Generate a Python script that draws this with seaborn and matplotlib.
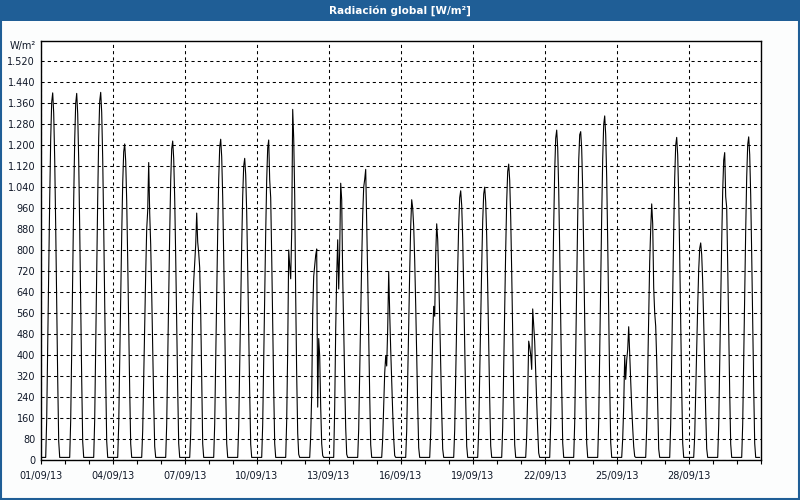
import numpy as np
import pandas as pd
import matplotlib
matplotlib.use("Agg")
import matplotlib.pyplot as plt
import matplotlib.dates as mdates
import seaborn as sns
from matplotlib.patches import Rectangle

# ---------------- data ----------------
title = "Radiación global [W/m²]"
unit_label = "W/m²"
start_date = "2013-09-01"
end_date = "2013-10-01"
night_value = 8
day_hours = list(range(5, 19))          # hours (UTC) covered by each daylight list

# hourly global radiation (W/m²) for hours 05..18 of each day of September 2013
daylight = [
    [8, 154, 420, 714, 994, 1225, 1365, 1400, 1323, 1148, 889, 595, 308, 70],   # 01
    [8, 150, 415, 710, 990, 1220, 1360, 1398, 1320, 1145, 885, 592, 305, 68],   # 02
    [8, 152, 418, 712, 995, 1228, 1368, 1402, 1325, 1150, 890, 596, 310, 70],   # 03
    [8, 132, 362, 615, 856, 1054, 1175, 1205, 1139, 988, 765, 512, 265, 60],    # 04
    [8, 110, 300, 510, 710, 880, 950, 1134, 940, 820, 635, 425, 220, 50],       # 05
    [8, 134, 365, 620, 863, 1064, 1186, 1216, 1149, 997, 772, 517, 268, 61],    # 06
    [8, 100, 330, 570, 680, 750, 820, 941, 830, 790, 732, 560, 300, 60],        # 07
    [8, 135, 367, 624, 868, 1070, 1192, 1223, 1156, 1003, 777, 520, 269, 61],   # 08
    [8, 127, 345, 587, 817, 1006, 1121, 1150, 1087, 943, 730, 489, 253, 58],    # 09
    [8, 134, 366, 622, 866, 1068, 1190, 1220, 1067, 1000, 775, 518, 268, 61],   # 10
    [8, 150, 420, 800, 740, 690, 870, 1337, 1227, 1010, 620, 320, 100, 20],     # 11
    [8, 90, 250, 560, 700, 740, 780, 804, 200, 462, 395, 200, 60, 15],          # 12
    [8, 200, 496, 700, 839, 651, 800, 1055, 992, 700, 496, 300, 120, 20],       # 13
    [8, 116, 320, 545, 760, 935, 1040, 1070, 1108, 905, 700, 470, 245, 56],     # 14
    [8, 80, 200, 330, 395, 357, 500, 718, 560, 420, 300, 180, 80, 15],          # 15
    [8, 110, 300, 510, 720, 890, 992, 960, 890, 760, 590, 395, 205, 45],        # 16
    [8, 100, 280, 480, 585, 547, 780, 900, 840, 700, 540, 360, 185, 40],        # 17
    [8, 113, 308, 523, 728, 898, 1000, 1026, 970, 842, 652, 436, 226, 51],      # 18
    [8, 114, 312, 530, 738, 910, 1014, 1040, 983, 853, 660, 442, 229, 52],      # 19
    [8, 124, 338, 575, 801, 987, 1100, 1128, 1066, 925, 716, 479, 248, 56],     # 20
    [8, 90, 250, 452, 430, 400, 344, 575, 509, 450, 330, 220, 110, 25],         # 21
    [8, 138, 377, 642, 893, 1101, 1227, 1258, 1189, 1032, 799, 535, 277, 63],   # 22
    [8, 140, 390, 665, 925, 1140, 1240, 1252, 1185, 1030, 795, 530, 275, 62],   # 23
    [8, 144, 394, 669, 932, 1148, 1279, 1312, 1240, 1076, 833, 558, 289, 66],   # 24
    [8, 80, 200, 395, 306, 380, 420, 507, 400, 300, 200, 120, 50, 12],          # 25
    [8, 120, 330, 560, 757, 880, 976, 900, 655, 560, 509, 380, 200, 40],        # 26
    [8, 135, 369, 627, 873, 1076, 1200, 1230, 1162, 1009, 781, 523, 271, 62],   # 27
    [8, 91, 248, 422, 587, 724, 806, 827, 782, 678, 525, 351, 182, 41],         # 28
    [8, 129, 352, 598, 832, 1026, 1143, 1172, 1004, 962, 744, 498, 258, 59],    # 29
    [8, 135, 370, 628, 875, 1078, 1202, 1232, 1164, 1010, 782, 524, 272, 62],   # 30
]

y_ticks = list(range(0, 1600, 80))
y_max = 1600
x_tick_days = list(range(1, 29, 3))

# ---------------- style ----------------
sns.set_theme(style="white")
plt.rcParams["font.family"] = ["DejaVu Sans"]

BLUE = "#1F5E96"
TEXT = "#101828"

times = pd.date_range(start_date, periods=len(daylight) * 24, freq="h")
values = np.full(len(times), float(night_value))
for d, prof in enumerate(daylight):
    for h, v in zip(day_hours, prof):
        values[d * 24 + h] = v
df = pd.DataFrame({"time": times, "rad": values})

fig = plt.figure(figsize=(8, 5), dpi=100)
fig.patch.set_facecolor("#FCFDFD")

# title bar and outer border
fig.add_artist(Rectangle((0, 1 - 21 / 500), 1, 21 / 500, transform=fig.transFigure,
                         facecolor=BLUE, edgecolor="none", zorder=0))
fig.text(0.5, 1 - 10.5 / 500, title, color="white", fontweight="bold",
         ha="center", va="center", fontsize=7.5)
fig.add_artist(Rectangle((0.6 / 800, 0.6 / 500), 798.8 / 800, 498.8 / 500,
                         transform=fig.transFigure, fill=False,
                         edgecolor=BLUE, lw=1.5, zorder=5))

ax = fig.add_axes([40.7 / 800, 40.5 / 500, 720 / 800, 419 / 500])
ax.set_facecolor("white")
sns.lineplot(data=df, x="time", y="rad", ax=ax, color="black", lw=0.8,
             estimator=None, zorder=3)

ax.set_xlim(pd.Timestamp(start_date), pd.Timestamp(end_date))
ax.set_ylim(0, y_max)
ax.set_xlabel("")
ax.set_ylabel("")

major_dates = [pd.Timestamp(2013, 9, d) for d in x_tick_days]
ax.set_xticks(major_dates)
ax.xaxis.set_minor_locator(mdates.DayLocator())
ax.xaxis.set_major_formatter(mdates.DateFormatter("%d/%m/%y"))
ax.set_yticks(y_ticks)
ax.set_yticklabels([f"{v:,}".replace(",", ".") for v in y_ticks])

ax.tick_params(axis="x", which="both", direction="out", length=3, width=0.8,
               color="black", bottom=True, labelsize=7, pad=5, labelcolor=TEXT)
ax.tick_params(axis="y", which="both", length=0, labelsize=7, pad=4,
               labelcolor=TEXT)

ax.grid(True, which="major", axis="both", color="black",
        linestyle=(0, (3, 3)), linewidth=0.75, zorder=1)
for s in ax.spines.values():
    s.set_color("black")
    s.set_linewidth(1.0)

ax.text(-0.006, 1 - 5 / 419, unit_label, transform=ax.transAxes,
        ha="right", va="center", fontsize=7, color=TEXT)

fig.savefig("out.png", dpi=100, facecolor=fig.get_facecolor())
